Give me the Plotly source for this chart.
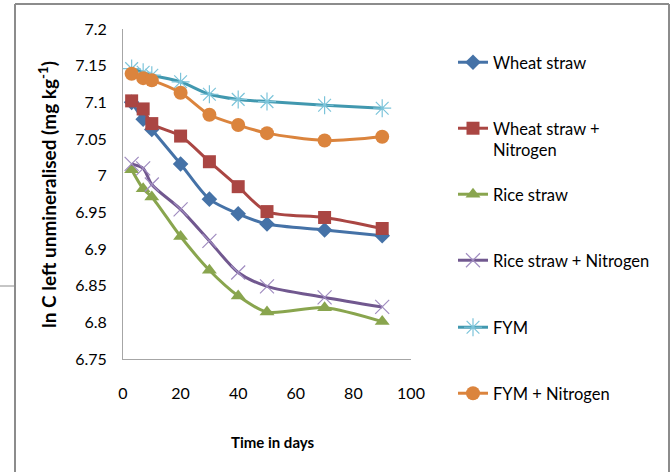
import plotly.graph_objects as go

days = [3, 7, 10, 20, 30, 40, 50, 70, 90]

wheat_straw = [7.100, 7.077, 7.063, 7.016, 6.968, 6.948, 6.934, 6.926, 6.918]
wheat_straw_n = [7.102, 7.091, 7.071, 7.054, 7.019, 6.985, 6.951, 6.943, 6.928]
rice_straw = [7.008, 6.982, 6.971, 6.917, 6.871, 6.836, 6.814, 6.820, 6.801]
rice_straw_n = [7.016, 7.010, 6.988, 6.954, 6.911, 6.868, 6.849, 6.834, 6.821]
fym = [7.146, 7.141, 7.137, 7.128, 7.111, 7.104, 7.101, 7.096, 7.092]
fym_n = [7.139, 7.133, 7.130, 7.113, 7.083, 7.069, 7.058, 7.048, 7.053]

series_names = ["Wheat straw", "Wheat straw +<br>Nitrogen", "Rice straw",
                "Rice straw + Nitrogen", "FYM", "FYM + Nitrogen"]
y_ticks = [6.75, 6.8, 6.85, 6.9, 6.95, 7.0, 7.05, 7.1, 7.15, 7.2]
y_tick_text = ["6.75", "6.8", "6.85", "6.9", "6.95", "7", "7.05", "7.1", "7.15", "7.2"]
x_ticks = [0, 20, 40, 60, 80, 100]

W, H = 672, 472
L, R, T, B = 123, 411, 29, 359  # plot area in px


def px(xp):
    return (xp - L) / (R - L)


def py(yp):
    return (B - yp) / (B - T)


FONT = "Lato"
styles = [
    dict(color="#4572A7", marker=dict(symbol="diamond", size=12, color="#4572A7")),
    dict(color="#AA4643", marker=dict(symbol="square", size=13, color="#AA4643")),
    dict(color="#89A54E", marker=dict(symbol="triangle-up", size=13, color="#89A54E")),
    dict(color="#71588F", marker=dict(symbol="x-thin-open", size=14, color="#A08CC0",
                                     line=dict(width=1.2, color="#A08CC0"))),
    dict(color="#4198AF", marker=dict(symbol="asterisk-open", size=15, color="#7CC4DA",
                                     line=dict(width=1.2, color="#7CC4DA"))),
    dict(color="#DB843D", marker=dict(symbol="circle", size=14, color="#DB843D")),
]
data = [wheat_straw, wheat_straw_n, rice_straw, rice_straw_n, fym, fym_n]
legend_centers = [62, 128, 194, 260, 327, 393]
legend_ids = ["legend", "legend2", "legend3", "legend4", "legend5", "legend6"]

fig = go.Figure()
for name, vals, st, lid in zip(series_names, data, styles, legend_ids):
    fig.add_trace(go.Scatter(
        x=days, y=vals, name=name, mode="lines+markers",
        line=dict(color=st["color"], width=3, shape="spline", smoothing=0.8),
        marker=st["marker"], legend=lid,
    ))

legend_layout = {}
for lid, cy in zip(legend_ids, legend_centers):
    legend_layout[lid] = dict(
        x=px(453), y=py(cy - 17), xanchor="left", yanchor="top",
        font=dict(family=FONT, size=16.5, color="#000000"),
        bgcolor="rgba(0,0,0,0)", valign="top",
        borderwidth=0,
    )

border = "#8C8C8C"
shapes = [
    dict(type="line", xref="paper", yref="paper", x0=px(15), x1=px(15), y0=py(4), y1=py(472),
         line=dict(color=border, width=2)),
    dict(type="line", xref="paper", yref="paper", x0=px(15), x1=px(669), y0=py(4), y1=py(4),
         line=dict(color=border, width=2)),
    dict(type="line", xref="paper", yref="paper", x0=px(669), x1=px(669), y0=py(4), y1=py(472),
         line=dict(color=border, width=2)),
    dict(type="line", xref="paper", yref="paper", x0=px(0), x1=px(15), y0=py(286), y1=py(286),
         line=dict(color=border, width=1)),
]

annotations = [
    dict(text="<b>ln C left unmineralised (mg kg<sup>-1</sup>)</b>", xref="paper", yref="paper",
         x=px(47), y=py(195), textangle=-90, showarrow=False,
         font=dict(family=FONT, size=19, color="#000000"), xanchor="center", yanchor="middle"),
    dict(text="<b>Time in days</b>", xref="paper", yref="paper",
         x=px(273), y=py(442), showarrow=False,
         font=dict(family=FONT, size=15, color="#000000"), xanchor="center", yanchor="middle"),
]

fig.update_layout(
    width=W, height=H,
    margin=dict(l=L, r=W - R, t=T, b=H - B),
    paper_bgcolor="white", plot_bgcolor="white",
    showlegend=True,
    shapes=shapes, annotations=annotations,
    **legend_layout,
)
fig.update_xaxes(range=[0, 100], tickvals=x_ticks, showgrid=False, zeroline=False,
                 showline=True, linecolor="#A6A6A6", linewidth=1, ticks="",
                 ticklabelstandoff=20,
                 tickfont=dict(family=FONT, size=16, color="#000000"))
fig.update_yaxes(range=[6.75, 7.2], tickvals=y_ticks, ticktext=y_tick_text, showgrid=False,
                 zeroline=False, showline=True, linecolor="#A6A6A6", linewidth=1, ticks="",
                 ticklabelstandoff=12,
                 tickfont=dict(family=FONT, size=16, color="#000000"))

fig.write_html("out.html")
